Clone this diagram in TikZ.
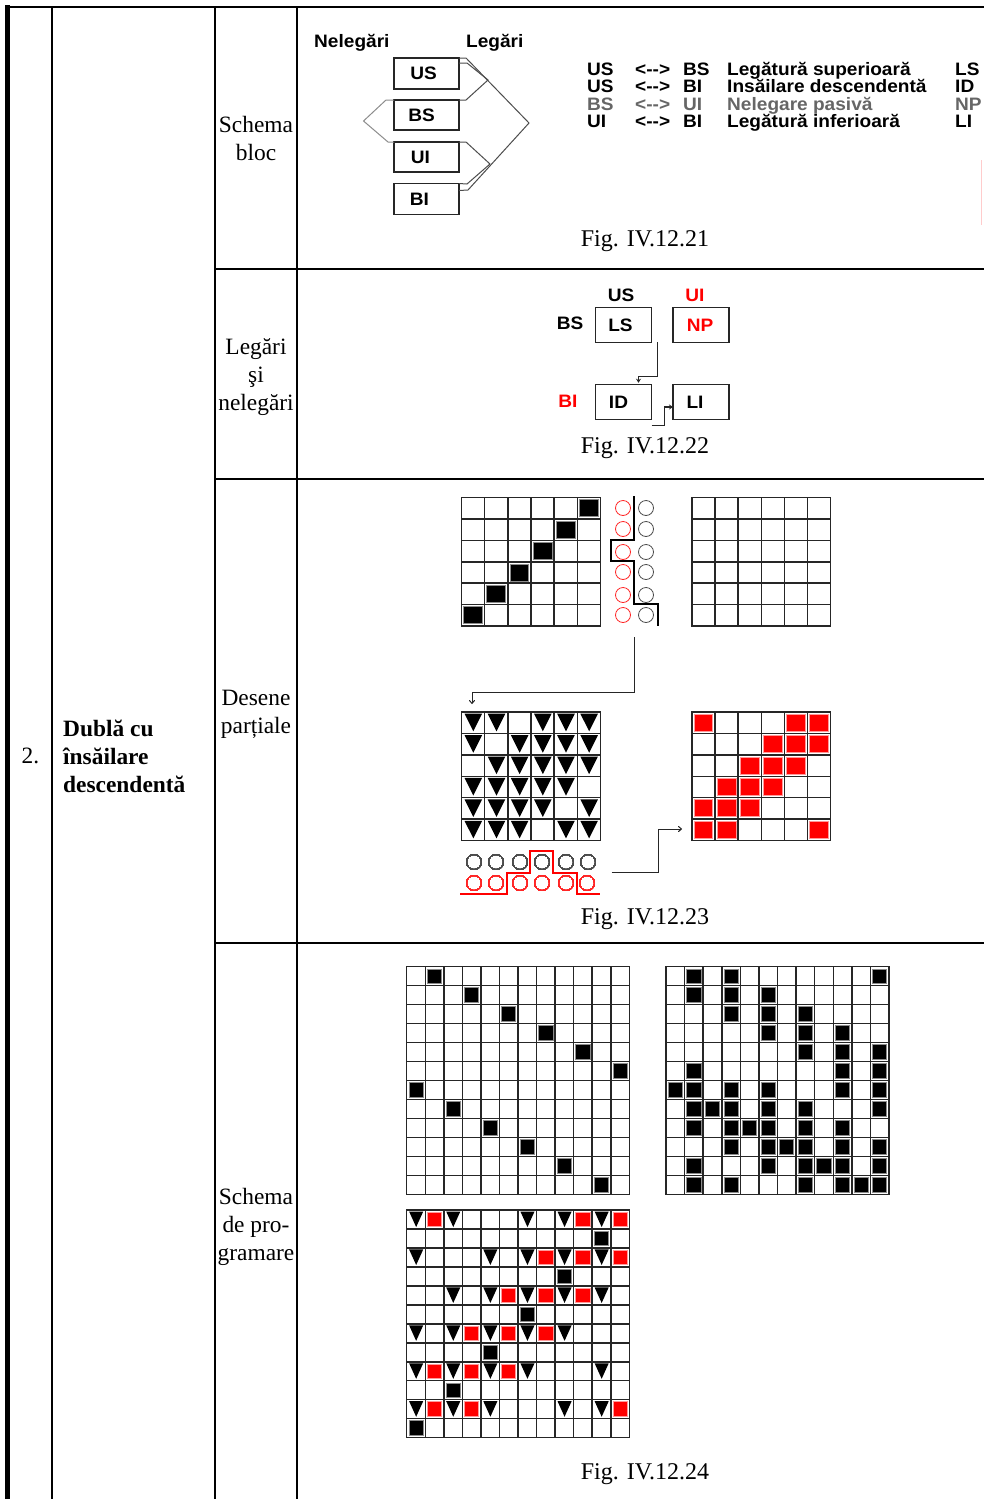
\documentclass[tikz,border=0pt]{standalone}
\usepackage{fontspec}
\setmainfont{Liberation Serif}
\newfontfamily\pixfont[FakeStretch=1.06]{Liberation Sans}
\usepackage{tikz}
\usetikzlibrary{positioning,arrows.meta,calc}
\definecolor{cellred}{RGB}{255,0,0}
\newcommand{\gridbox}[6]{
  \node[gridframe, minimum width=#5pt, minimum height=#6pt] (#1) at (#2,#3) {};
  \def\gx{#2}\def\gy{#3}
  \pgfmathsetmacro{\cw}{#5/#4}\pgfmathsetmacro{\ch}{#6/#4}
  \foreach \k in {1,...,#4} {
    \draw[gridline] (\gx+\k*\cw,\gy) -- ++(0,#6);
    \draw[gridline] (\gx,\gy+\k*\ch) -- ++(#5,0);
  }
}
\newcommand{\squares}[2]{
  \foreach \cl/\rw in {#2}
    \path[#1] (\gx+\cl*\cw+2.2,\gy+\rw*\ch+2.2) rectangle ++(\cw-4.4,\ch-4.4);
}
\newcommand{\wedges}[1]{
  \foreach \cl/\rw in {#1}
    \fill[black] (\gx+\cl*\cw+.13*\cw,\gy+\rw*\ch+.08*\ch) -- ++(.76*\cw,0) -- ++(-.38*\cw,.82*\ch) -- cycle;
}
\begin{document}
\begin{tikzpicture}[
    x=1pt, y=-1pt,
    rule/.style={line width=2pt},
    gridframe/.style={draw=black!85, line width=1.5pt, anchor=north west, inner sep=0pt, outer sep=0pt},
    gridline/.style={draw=black!85, line width=1.5pt},
    blackcell/.style={fill=black, draw=black!45, line width=.8pt},
    redcell/.style={fill=cellred, draw=red!40, line width=.8pt},
    label text/.style={font=\fontsize{23.4}{28}\selectfont, align=center, inner sep=0pt},
    figcap/.style={font=\fontsize{24}{28}\selectfont, inner sep=0pt},
    pix/.style={font=\pixfont\bfseries\fontsize{18}{20}\selectfont, inner sep=0pt},
    pixbox/.style={draw=black!85, line width=1.4pt, pix, inner sep=0pt, outer sep=0pt, minimum width=65pt},
    fig22box/.style={pixbox, minimum width=56pt, minimum height=34.5pt},
    redring/.style={circle, draw=red!85!white, line width=.8pt, minimum size=15pt, inner sep=0pt},
    blackring/.style={circle, draw=black!70, line width=.8pt, minimum size=15pt, inner sep=0pt},
    link/.style={line width=1pt, draw=black!70},
    arr/.style={line width=1pt, draw=black!85, -{To[length=4pt,width=6pt]}},
    arrdot/.style={line width=1.5pt, draw=black!85, -{Stealth[length=4pt,width=5pt]}}
]
\useasboundingbox (0,0) rectangle (984,1499);

\draw[line width=5pt] (7.5,5) -- (7.5,1499);
\foreach \x in {52,215,297}
  \draw[rule] (\x,6) -- (\x,1499);
\draw[rule] (5,7) -- (984,7);
\foreach \y in {269,479,943}
  \draw[rule] (215,\y) -- (984,\y);

\node[label text] (nr) at (30.5,756) {2.};
\node[label text, font=\fontsize{23.4}{28}\selectfont\bfseries, align=left, anchor=west] (title) at (63,756) {Dublă cu\\însăilare\\descendentă};
\node[label text] (lschema) at (256,138) {Schema\\bloc};
\node[label text] (llegari) at (256,377) {Legări\\şi\\nelegări};
\node[label text] (ldesene) at (256,714) {Desene\\parțiale};
\node[label text] (lprog) at (256,1227) {Schema\\de pro-\\gramare};
\node[figcap] (fa) at (645,241) {Fig. IV.12.21};
\node[figcap] (fb) at (645,448) {Fig. IV.12.22};
\node[figcap] (fc) at (645,919) {Fig. IV.12.23};
\node[figcap] (fd) at (645,1474) {Fig. IV.12.24};

\node[pix, anchor=base west] (neleg) at (314,47) {Nelegări};
\node[pix, anchor=base west] (leg) at (466,47) {Legări};
\node[pixbox, minimum height=31pt] (us) at (426.5,73.5) {US\hspace*{6pt}};
\node[pixbox, minimum height=30pt] (bs) at (426.5,115) {BS\hspace*{10pt}};
\node[pixbox, minimum height=30pt] (ui) at (426.5,157) {UI\hspace*{12pt}};
\node[pixbox, minimum height=31pt] (bi) at (426.5,199) {BI\hspace*{14pt}};
\draw[link] ($(us.north east)+(0,5)$) -- ++(8,0) -- (488,80) -- (466,100) -- (bs.north east);
\draw[link] (us.north east) -- ++(7,0) -- (529,123) -- (468,190) -- ($(bi.north east)+(0,7)$);
\draw[link] (ui.north east) -- ++(7,0) -- (490,164) -- (467,184) -- (bi.north east);
\draw[link, draw=black!45] (bs.north west) -- ++(-8,0) -- (363.5,121) -- (388,142) -- (ui.north west);

\foreach \y/\a/\b/\d/\e/\col in {75/US/BS/Legătură superioară/LS/black, 92.5/US/BI/Insăilare descendentă/ID/black, 110/BS/UI/Nelegare pasivă/NP/black!60, 127.5/UI/BI/Legătură inferioară/LI/black} {
  \node[pix, text=\col, anchor=base west] (rowa\y) at (587,\y) {\a};
  \node[pix, text=\col, anchor=base west] (rowm\y) at (635,\y) {<-->};
  \node[pix, text=\col, anchor=base west] (rowb\y) at (683,\y) {\b};
  \node[pix, text=\col, anchor=base west] (rowd\y) at (727,\y) {\d};
  \node[pix, text=\col, anchor=base west] (rowc\y) at (955,\y) {\e};
}
\draw[red!20, line width=1pt] (981,160) -- (981,225);

\node[fig22box] (ls) at (623.5,325) {LS\hspace*{6pt}};
\node[fig22box, text=red] (np) at (701,325) {NP\hspace*{2pt}};
\node[fig22box] (id) at (623.5,402) {ID\hspace*{10pt}};
\node[fig22box] (li) at (701,402) {LI\hspace*{12pt}};
\node[pix] (tus) at (621,295.5) {US};
\node[pix, text=red] (tui) at (695,295.5) {UI};
\node[pix] (tbs) at (570,323.5) {BS};
\node[pix, text=red] (tbi) at (568,401) {BI};
\draw[arrdot] ($(ls.south east)+(6,0)$) |- ++(-19,34) -- ($(id.north)+(15,-2)$);
\draw[arrdot] ($(id.south east)+(0,6)$) -- ++(13,0) |- ($(li.west)+(0,5)$);

\gridbox{gdiag}{461.5}{497.5}{6}{139}{128.5}
\squares{blackcell}{5/0,4/1,3/2,2/3,1/4,0/5}
\gridbox{gempty}{692}{497.5}{6}{138.5}{128.5}
\foreach \i/\y in {1/508,2/529,3/552,4/572,5/595,6/615} {
  \node[redring] (ra\i) at (623,\y) {};
  \node[blackring] (ba\i) at (646,\y) {};
}
\draw[line width=2.2pt] (634,496) -- (634,540) -- (611,540) -- (611,561) -- (634,561) -- (634,604) -- (658,604) -- (658,626);
\coordinate (downstart) at (634,637);
\draw[arr] (downstart) -- ++(0,55) -| (472,704);

\gridbox{gtri}{461.5}{712}{6}{139}{128.5}
\foreach \rr/\bb in {0/2,1/1,2/0,3/5,4/4,5/3}
  \foreach \cc in {0,...,5}
    \ifnum\cc=\bb\else\wedges{\cc/\rr}\fi
\gridbox{gred}{692}{712}{6}{138.5}{128.5}
\squares{redcell}{0/0,4/0,5/0,3/1,4/1,5/1,2/2,3/2,4/2,1/3,2/3,3/3,0/4,1/4,2/4,0/5,1/5,5/5}
\foreach \i/\xa/\xb in {1/474/474,2/496/496,3/520/520,4/542/542,5/566/566,6/588/587} {
  \node[blackring] (bb\i) at (\xa,862) {};
  \node[redring] (rb\i) at (\xb,883) {};
}
\draw[line width=2.2pt, red] (460,894) -- (507,894) -- (507,873) -- (530,873) -- (530,851) -- (553,851) -- (553,873) -- (577,873) -- (577,894) -- (600,894);
\coordinate (upstart) at (611.5,872);
\draw[arr] (upstart) -- ++(46.5,0) |- ($(gred.north west)+(-10,117)$);

\gridbox{gpass}{406.7}{966.7}{12}{222.6}{227.6}
\squares{blackcell}{1/0,3/1,5/2,7/3,9/4,11/5,0/6,2/7,4/8,6/9,8/10,10/11}
\gridbox{gfull}{666}{966.7}{12}{223}{227.6}
\squares{blackcell}{1/0,3/0,11/0,1/1,3/1,5/1,3/2,5/2,7/2,5/3,7/3,9/3,7/4,9/4,11/4,1/5,9/5,11/5,0/6,1/6,3/6,5/6,9/6,11/6,1/7,2/7,3/7,5/7,7/7,11/7,1/8,3/8,4/8,5/8,7/8,9/8,3/9,5/9,6/9,7/9,9/9,11/9,1/10,5/10,7/10,8/10,9/10,11/10,1/11,3/11,7/11,9/11,10/11,11/11}
\gridbox{gmix}{406.7}{1210}{12}{222.6}{227.6}
\wedges{0/0,2/0,6/0,8/0,10/0,0/2,4/2,6/2,8/2,10/2,2/4,4/4,6/4,8/4,10/4,0/6,2/6,4/6,6/6,8/6,0/8,2/8,4/8,6/8,10/8,0/10,2/10,4/10,8/10,10/10}
\squares{redcell}{1/0,9/0,11/0,7/2,9/2,11/2,5/4,7/4,9/4,3/6,5/6,7/6,1/8,3/8,5/8,1/10,3/10,11/10}
\squares{blackcell}{10/1,8/3,6/5,4/7,2/9,0/11}
\end{tikzpicture}
\end{document}
